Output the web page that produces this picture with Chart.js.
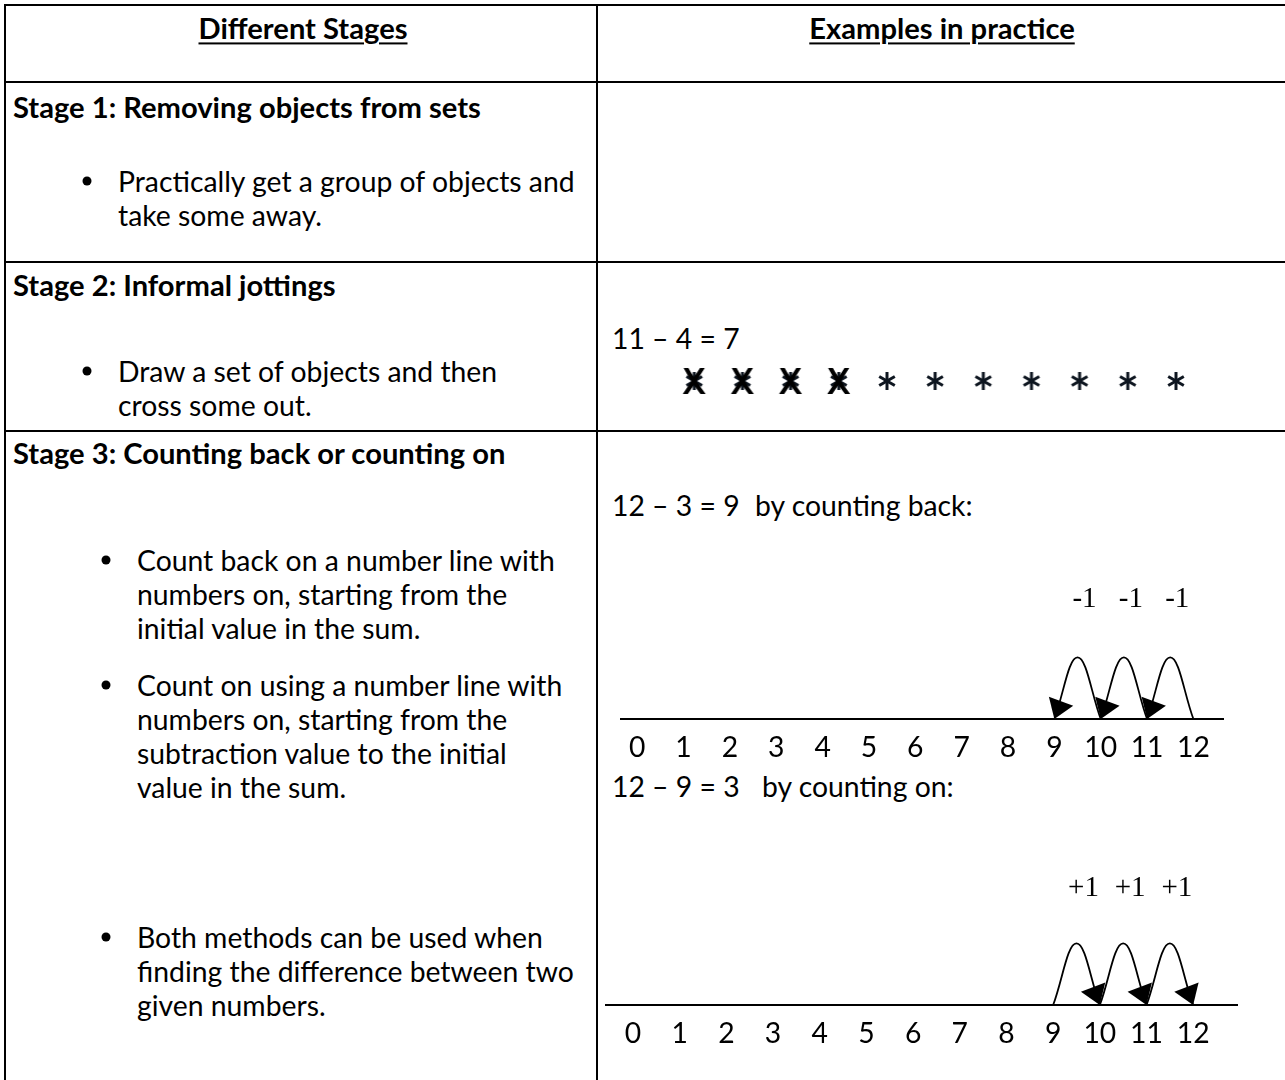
<!DOCTYPE html>
<html>
<head>
<meta charset="utf-8">
<script src="https://cdn.jsdelivr.net/npm/chart.js@4.4.1/dist/chart.umd.min.js"></script>
<style>
  html, body { margin:0; padding:0; background:#fff; }
  #page { position:relative; width:1285px; height:1080px; overflow:hidden; background:#fff; font-family: Lato, "Open Sans", sans-serif; color:#000; }
  .hl { position:absolute; height:2px; background:#000; }
  .vl { position:absolute; width:2px; background:#000; }
  .t { position:absolute; white-space:nowrap; line-height:1; transform:translateY(-50%); font-size:var(--fs); }
  .b { font-weight:700; font-size:var(--fb); }
  .c { transform:translate(-50%,-50%); }
  .u { text-decoration:underline; text-decoration-thickness:2px; text-underline-offset:3px; }
  .dot { position:absolute; width:9px; height:9px; border-radius:50%; background:#000; transform:translate(-50%,-50%); }
  .cv { position:absolute; }
</style>
</head>
<body>
<div id="page">
  <!-- table rules -->
  <div class="hl" style="left:4px;top:4px;width:1281px"></div>
  <div class="hl" style="left:4px;top:81px;width:1281px"></div>
  <div class="hl" style="left:4px;top:261px;width:1281px"></div>
  <div class="hl" style="left:4px;top:430px;width:1281px"></div>
  <div class="vl" style="left:4px;top:4px;height:1076px"></div>
  <div class="vl" style="left:596px;top:4px;height:1076px"></div>

  <!-- header -->
  <div class="t b c u" style="left:303px;top:28px">Different Stages</div>
  <div class="t b c u" style="left:942px;top:28px">Examples in practice</div>

  <!-- stage 1 -->
  <div class="t b" style="left:13px;top:107px">Stage 1: Removing objects from sets</div>
  <div class="dot" style="left:87px;top:181px"></div>
  <div class="t" style="left:118px;top:181px">Practically get a group of objects and</div>
  <div class="t" style="left:118px;top:215px">take some away.</div>

  <!-- stage 2 -->
  <div class="t b" style="left:13px;top:285px">Stage 2: Informal jottings</div>
  <div class="dot" style="left:87px;top:371px"></div>
  <div class="t" style="left:118px;top:371px">Draw a set of objects and then</div>
  <div class="t" style="left:118px;top:405px">cross some out.</div>
  <div class="t" style="left:612px;top:338px">11 – 4 = 7</div>
  <div class="cv" style="left:612px;top:357px;width:600px;height:48px"><canvas id="jot" width="600" height="48"></canvas></div>

  <!-- stage 3 -->
  <div class="t b" style="left:13px;top:453px">Stage 3: Counting back or counting on</div>
  <div class="dot" style="left:106px;top:560px"></div>
  <div class="t" style="left:137px;top:560px">Count back on a number line with</div>
  <div class="t" style="left:137px;top:594px">numbers on, starting from the</div>
  <div class="t" style="left:137px;top:628px">initial value in the sum.</div>
  <div class="dot" style="left:106px;top:685px"></div>
  <div class="t" style="left:137px;top:685px">Count on using a number line with</div>
  <div class="t" style="left:137px;top:719px">numbers on, starting from the</div>
  <div class="t" style="left:137px;top:753px">subtraction value to the initial</div>
  <div class="t" style="left:137px;top:787px">value in the sum.</div>
  <div class="dot" style="left:106px;top:937px"></div>
  <div class="t" style="left:137px;top:937px">Both methods can be used when</div>
  <div class="t" style="left:137px;top:971px">finding the difference between two</div>
  <div class="t" style="left:137px;top:1005px">given numbers.</div>

  <div class="t" style="left:612px;top:505px">12 – 3 = 9</div>
  <div class="t" style="left:755px;top:505px">by counting back:</div>
  <div class="cv" style="left:617px;top:559px;width:607px;height:200px"><canvas id="nl1" width="607" height="200"></canvas></div>

  <div class="t" style="left:612px;top:786px">12 – 9 = 3</div>
  <div class="t" style="left:762px;top:786px">by counting on:</div>
  <div class="cv" style="left:605px;top:845px;width:633px;height:200px"><canvas id="nl2" width="633" height="200"></canvas></div>
</div>

<script>
// ---------------- data ----------------
const numberLineTicks = [0, 1, 2, 3, 4, 5, 6, 7, 8, 9, 10, 11, 12];
const backJumpFrom = [12, 11, 10];
const backJumpTo   = [11, 10, 9];
const backJumpLabels = ['-1', '-1', '-1'];
const onJumpFrom = [9, 10, 11];
const onJumpTo   = [10, 11, 12];
const onJumpLabels = ['+1', '+1', '+1'];
const jotItems   = [1, 2, 3, 4, 5, 6, 7, 8, 9, 10, 11];
const jotCrossed = [1, 1, 1, 1, 0, 0, 0, 0, 0, 0, 0];

// ---------------- font sizing (match reference text widths) ----------------
(function fitFonts(){
  const c = document.createElement('canvas').getContext('2d');
  c.font = '100px Lato';
  const wr = c.measureText('Practically get a group of objects and').width;
  c.font = 'bold 100px Lato';
  const wb = c.measureText('Stage 1: Removing objects from sets').width;
  const fs = 100 * 458 / wr, fb = 100 * 468 / wb;
  const p = document.getElementById('page');
  p.style.setProperty('--fs', fs.toFixed(2) + 'px');
  p.style.setProperty('--fb', fb.toFixed(2) + 'px');
  window.__fs = fs;
})();
const FS = Math.round(window.__fs * 10) / 10;

// ---------------- stage 2 marks ----------------
function makeStar(crossed){
  const w = crossed ? 30 : 20, h = crossed ? 38 : 24;
  const cv = document.createElement('canvas'); cv.width = w; cv.height = h;
  const g = cv.getContext('2d');
  const cx = w/2, cy = h/2, r = 9;
  g.strokeStyle = '#0e1620'; g.lineWidth = 3; g.lineCap = 'butt';
  [90, 30, 150].forEach(a => {
    const rad = a * Math.PI/180;
    g.beginPath();
    g.moveTo(cx - Math.cos(rad)*r, cy - Math.sin(rad)*r);
    g.lineTo(cx + Math.cos(rad)*r, cy + Math.sin(rad)*r);
    g.stroke();
  });
  if (crossed) {
    g.strokeStyle = '#000'; g.lineWidth = 4.2; g.lineCap = 'round';
    g.beginPath(); g.moveTo(5, 3); g.quadraticCurveTo(13, 18, 26, 35); g.stroke();
    g.beginPath(); g.moveTo(25, 3); g.quadraticCurveTo(15, 19, 4, 35); g.stroke();
  }
  return cv;
}
const starImg = makeStar(false), crossImg = makeStar(true);

new Chart(document.getElementById('jot'), {
  type: 'scatter',
  data: { datasets: [{
    data: jotItems.map(x => ({x, y: 0})),
    pointStyle: jotCrossed.map(c => c ? crossImg : starImg),
    pointRadius: 10
  }]},
  options: {
    responsive: false, animation: false, events: [],
    layout: { padding: 0 },
    plugins: { legend: { display: false }, tooltip: { enabled: false } },
    scales: {
      x: { display: false, min: -0.48, max: 11.52 },
      y: { display: false, min: -1, max: 1 }
    }
  }
});

// ---------------- number lines ----------------
const jumpPlugin = {
  id: 'jumps',
  afterDatasetsDraw(chart) {
    const ctx = chart.ctx;
    const yScale = chart.scales.y;
    chart.data.datasets.forEach((ds, i) => {
      const meta = chart.getDatasetMeta(i);
      const pts = meta.data;
      const end = pts[pts.length - 1];
      const dx = end.x - end.cp1x, dy = end.y - end.cp1y;
      const len = Math.hypot(dx, dy) || 1;
      const ux = dx/len, uy = dy/len;
      const L = 19, W = 26;
      const bx = end.x - ux*L, by = end.y - uy*L;
      ctx.save();
      ctx.fillStyle = '#000';
      ctx.beginPath();
      ctx.moveTo(end.x, end.y);
      ctx.lineTo(bx - uy*W/2, by + ux*W/2);
      ctx.lineTo(bx + uy*W/2, by - ux*W/2);
      ctx.closePath();
      ctx.fill();
      // jump label
      ctx.font = '29px "Liberation Serif", "DejaVu Serif", serif';
      ctx.textAlign = 'center';
      ctx.textBaseline = 'middle';
      ctx.fillText(ds.jumpLabel, pts[1].x + 7, yScale.getPixelForValue(ds.labelY));
      ctx.restore();
    });
  }
};

function numberLine(id, from, to, labels, xmin, xmax, labelY) {
  const datasets = from.map((f, i) => ({
    data: [{x: f, y: 0}, {x: (f + to[i]) / 2, y: 1}, {x: to[i], y: 0}],
    showLine: true, tension: 0.4, borderColor: '#000', borderWidth: 1.8,
    pointRadius: 0, clip: false, jumpLabel: labels[i], labelY: labelY
  }));
  new Chart(document.getElementById(id), {
    type: 'scatter',
    data: { datasets },
    options: {
      responsive: false, animation: false, events: [],
      layout: { padding: 0 },
      plugins: { legend: { display: false }, tooltip: { enabled: false } },
      scales: {
        x: {
          min: xmin, max: xmax,
          afterBuildTicks: s => { s.ticks = numberLineTicks.map(v => ({value: v})); },
          afterFit: s => { s.height = 40; },
          grid: { display: true, color: 'rgba(0,0,0,0)', drawTicks: false },
          border: { display: true, color: '#000', width: 2 },
          ticks: { autoSkip: false, maxRotation: 0, padding: 12, color: '#000',
                   font: { family: 'Lato', size: FS }, callback: v => String(v) }
        },
        y: { display: false, min: 0, max: 2.6 }
      }
    },
    plugins: [jumpPlugin]
  });
}
numberLine('nl1', backJumpFrom, backJumpTo, backJumpLabels, -0.343, 12.66, 1.95);
numberLine('nl2', onJumpFrom, onJumpTo, onJumpLabels, -0.6, 12.96, 1.9);
</script>
</body>
</html>
